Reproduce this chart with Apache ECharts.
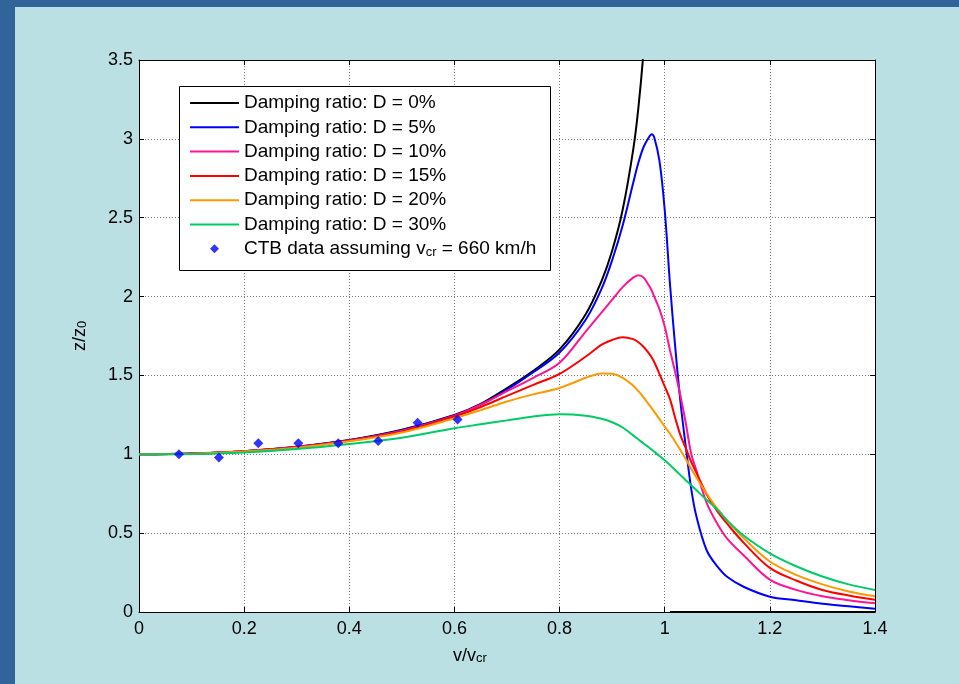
<!DOCTYPE html>
<html>
<head>
<meta charset="utf-8">
<script src="https://cdn.jsdelivr.net/npm/echarts@6/dist/echarts.min.js"></script>
<style>
	body { margin: 0; background: #31659a; }
	#bg { position: absolute; left: 15px; top: 7px; right: 0; bottom: 0; background: #bbe0e3; }
	#report { position: absolute; left: 0; top: 0; width: 959px; height: 684px; }
</style>
</head>
<body>
<div id="bg"></div>
<div id="report"></div>
<script>
// v/vcr sampling
var ratioList = [0, 0.1, 0.2, 0.3, 0.4, 0.5, 0.6, 0.65, 0.7, 0.75, 0.8, 0.85, 0.88, 0.9, 0.92, 0.94, 0.95, 0.96, 0.97, 0.975, 0.98, 0.99,
	1.0, 1.01, 1.02, 1.03, 1.04, 1.05, 1.06, 1.08, 1.1, 1.12, 1.15, 1.2, 1.25, 1.3, 1.35, 1.4];

// z/z0 per damping ratio
var d0List = [1, 1.005, 1.02, 1.048, 1.09, 1.155, 1.25, 1.32, 1.42, 1.53, 1.665, 1.89, 2.10, 2.29, 2.55, 2.93, 3.20, 3.57, 4.1, 4.5, 5.0, 7.0,
	null, 0, 0, 0, 0, 0, 0, 0, 0, 0, 0, 0, 0, 0, 0, 0];
var d5List = [1, 1.005, 1.02, 1.047, 1.089, 1.153, 1.247, 1.315, 1.41, 1.52, 1.645, 1.855, 2.05, 2.23, 2.45, 2.72, 2.85, 2.95, 3.01, 3.03, 3.01, 2.86,
	2.55, 2.08, 1.68, 1.33, 1.05, 0.79, 0.61, 0.39, 0.29, 0.22, 0.16, 0.097, 0.074, 0.052, 0.036, 0.02];
var d10List = [1, 1.005, 1.02, 1.046, 1.088, 1.15, 1.245, 1.315, 1.40, 1.485, 1.58, 1.78, 1.90, 1.98, 2.06, 2.12, 2.135, 2.12, 2.07, 2.04, 2.0, 1.92,
	1.81, 1.66, 1.52, 1.37, 1.20, 1.01, 0.90, 0.69, 0.56, 0.46, 0.36, 0.205, 0.14, 0.10, 0.075, 0.055];
var d15List = [1, 1.005, 1.02, 1.045, 1.086, 1.145, 1.24, 1.30, 1.37, 1.44, 1.51, 1.62, 1.695, 1.725, 1.742, 1.73, 1.71, 1.68, 1.64, 1.615, 1.585, 1.51,
	1.43, 1.35, 1.23, 1.12, 1.04, 0.955, 0.885, 0.745, 0.64, 0.555, 0.44, 0.28, 0.20, 0.14, 0.105, 0.078];
var d20List = [1, 1.004, 1.018, 1.042, 1.082, 1.138, 1.228, 1.28, 1.335, 1.38, 1.42, 1.485, 1.513, 1.51, 1.485, 1.435, 1.40, 1.36, 1.315, 1.293, 1.27, 1.223,
	1.175, 1.13, 1.08, 1.025, 0.97, 0.91, 0.855, 0.75, 0.655, 0.575, 0.47, 0.32, 0.235, 0.175, 0.13, 0.10];
var d30List = [1, 1.002, 1.012, 1.033, 1.065, 1.105, 1.165, 1.19, 1.215, 1.24, 1.254, 1.245, 1.225, 1.203, 1.17, 1.12, 1.094, 1.068, 1.043, 1.03, 1.017, 0.99,
	0.962, 0.932, 0.90, 0.868, 0.836, 0.805, 0.773, 0.71, 0.65, 0.575, 0.485, 0.372, 0.29, 0.225, 0.175, 0.14];

// CTB measurements
var ctbXList = [0.076, 0.152, 0.227, 0.303, 0.379, 0.455, 0.530, 0.606];
var ctbYList = [1.0, 0.98, 1.07, 1.07, 1.07, 1.085, 1.20, 1.22];

var xTickList = [0, 0.2, 0.4, 0.6, 0.8, 1, 1.2, 1.4];
var yTickList = [0, 0.5, 1, 1.5, 2, 2.5, 3, 3.5];

var fontName = "'Liberation Sans', Arial, sans-serif";

function pairs(xl, yl){
	var out = [];
	for(var i = 0; i < xl.length; i++){
		out.push([xl[i], yl[i]]);
	}
	return out;
}

function lineSerie(name, list, color){
	return {
		name: name,
		type: 'line',
		symbol: 'none',
		smooth: 0.35,
		connectNulls: false,
		lineStyle: { color: color, width: 2 },
		itemStyle: { color: color },
		data: pairs(ratioList, list)
	};
}

function report(){
	var chart = echarts.init(document.getElementById('report'));
	var gridLeft = 139, gridTop = 60, gridW = 736, gridH = 552;

	var baseAxis = {
		type: 'value',
		axisLine: { show: true, onZero: false, lineStyle: { color: '#000', width: 1 } },
		axisTick: { show: true, inside: true, length: 5, lineStyle: { color: '#000' } },
		axisLabel: { color: '#000', fontSize: 18, fontFamily: fontName },
		splitLine: { show: true, lineStyle: { color: '#7a7a7a', type: [1, 2], width: 1 } }
	};

	var dampNames = ['Damping ratio: D = 0%', 'Damping ratio: D = 5%', 'Damping ratio: D = 10%',
		'Damping ratio: D = 15%', 'Damping ratio: D = 20%', 'Damping ratio: D = 30%'];
	var legendNames = [];
	for(var i = 0; i < dampNames.length; i++){
		legendNames.push({ name: dampNames[i], itemStyle: { opacity: 0 } });
	}
	legendNames.push({ name: 'CTB data assuming vcr = 660 km/h', icon: 'path://M5,0 L10,5 L5,10 L0,5 Z' });

	chart.setOption({
		backgroundColor: 'transparent',
		animation: false,
		grid: { left: gridLeft, top: gridTop, width: gridW, height: gridH, show: true, backgroundColor: '#fff', borderWidth: 0 },
		legend: {
			orient: 'vertical',
			left: 189,
			top: 93,
			padding: 0,
			itemWidth: 49,
			itemHeight: 9,
			itemGap: 4.3,
			symbolKeepAspect: true,
			textStyle: {
				fontSize: 19, fontFamily: fontName, color: '#000', lineHeight: 20,
				rich: { sub: { fontSize: 13, fontFamily: fontName, color: '#000', lineHeight: 6, verticalAlign: 'bottom' } }
			},
			formatter: function(name){
				if(name.indexOf('CTB') == 0){
					return 'CTB data assuming v{sub|cr} = 660 km/h';
				}
				return name;
			},
			data: legendNames
		},
		xAxis: [
			Object.assign({}, baseAxis, {
				min: 0, max: 1.4, interval: 0.2, position: 'bottom',
				axisLabel: Object.assign({}, baseAxis.axisLabel, {
					margin: 8,
					customValues: xTickList,
					formatter: function(v){ return String(Math.round(v * 10) / 10); }
				})
			}),
			Object.assign({}, baseAxis, {
				min: 0, max: 1.4, interval: 0.2, position: 'top',
				axisLabel: { show: false }, splitLine: { show: false }
			})
		],
		yAxis: [
			Object.assign({}, baseAxis, {
				min: 0, max: 3.5, interval: 0.5, position: 'left',
				axisLabel: Object.assign({}, baseAxis.axisLabel, {
					margin: 6,
					customValues: yTickList,
					formatter: function(v){ return String(Math.round(v * 10) / 10); }
				})
			}),
			Object.assign({}, baseAxis, {
				min: 0, max: 3.5, interval: 0.5, position: 'right',
				axisLabel: { show: false }, splitLine: { show: false }
			})
		],
		graphic: [
			{
				type: 'rect', z: 3,
				shape: { x: 179.5, y: 86.5, width: 371, height: 184 },
				style: { fill: '#fff', stroke: '#000', lineWidth: 1 }
			},
			{
				type: 'text', z: 5,
				x: 470, y: 656,
				style: {
					text: 'v/v{s|cr}', fill: '#000', font: '18px ' + fontName,
					textAlign: 'center', textVerticalAlign: 'middle',
					rich: { s: { fontSize: 13, fontFamily: fontName, fill: '#000', lineHeight: 6, verticalAlign: 'bottom' } }
				}
			},
			{
				type: 'text', z: 5,
				x: 80, y: 336, rotation: Math.PI / 2,
				style: {
					text: 'z/z{s|0}', fill: '#000', font: '18px ' + fontName,
					textAlign: 'center', textVerticalAlign: 'middle',
					rich: { s: { fontSize: 13, fontFamily: fontName, fill: '#000', lineHeight: 6, verticalAlign: 'bottom' } }
				}
			}
		],
		series: [
			lineSerie('Damping ratio: D = 0%', d0List, '#000000'),
			lineSerie('Damping ratio: D = 5%', d5List, '#0000ff'),
			lineSerie('Damping ratio: D = 10%', d10List, '#ff1493'),
			lineSerie('Damping ratio: D = 15%', d15List, '#ff0000'),
			lineSerie('Damping ratio: D = 20%', d20List, '#ff9900'),
			lineSerie('Damping ratio: D = 30%', d30List, '#00cc66'),
			{
				name: 'CTB data assuming vcr = 660 km/h',
				type: 'scatter',
				symbol: 'diamond',
				symbolSize: 10,
				itemStyle: { color: '#0000ff' },
				z: 4,
				data: pairs(ctbXList, ctbYList)
			}
		]
	});
}

report();
</script>
</body>
</html>
